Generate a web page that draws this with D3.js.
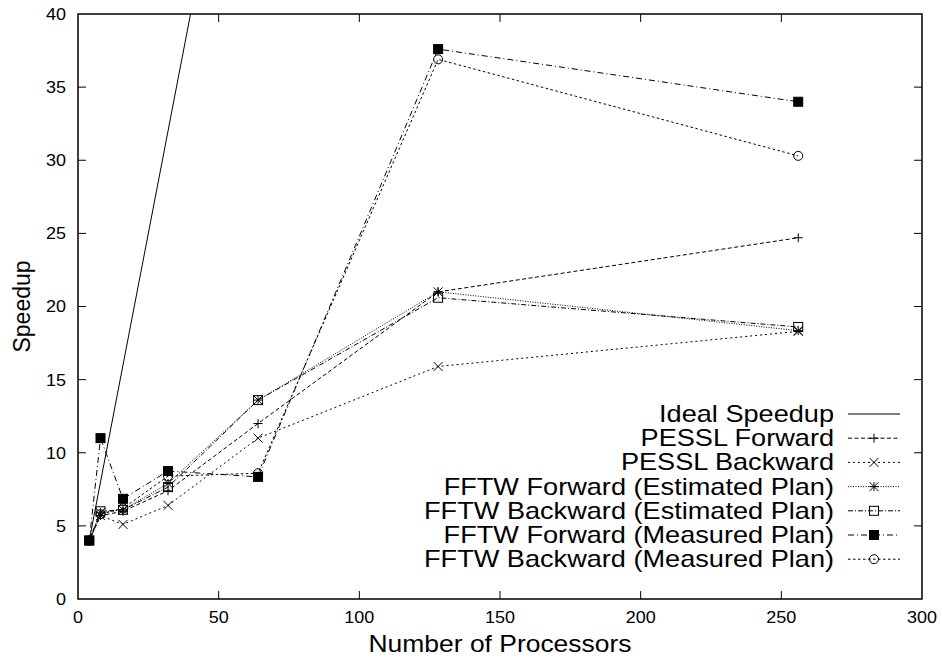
<!DOCTYPE html>
<html>
<head>
<meta charset="utf-8">
<script src="https://cdn.jsdelivr.net/npm/d3@7"></script>
<style>
  body { margin: 0; background: #fff; }
  text { font-family: "Liberation Sans", Arial, Helvetica, sans-serif; fill: #000; }
</style>
</head>
<body>
<div id="viz"></div>
<script>
// processors used in each run
let procs = [4, 8, 16, 32, 64, 128, 256]

// speedup values
let idealSpeedup = [4, 8, 16, 32, 64, 128, 256]
let pesslForward = [4, 5.7, 6.0, 7.4, 12.0, 21.0, 24.7]
let pesslBackward = [4, 5.7, 5.1, 6.4, 11.0, 15.9, 18.3]
let fftwFwdEst = [4, 5.9, 6.1, 7.9, 13.6, 21.0, 18.35]
let fftwBwdEst = [4, 6.0, 6.1, 7.65, 13.6, 20.6, 18.6]
let fftwFwdMeas = [4, 11.0, 6.85, 8.75, 8.35, 37.6, 34.0]
let fftwBwdMeas = [4, 5.8, 6.2, 8.4, 8.6, 36.9, 30.3]

let seriesNames = [
  "Ideal Speedup",
  "PESSL Forward",
  "PESSL Backward",
  "FFTW Forward (Estimated Plan)",
  "FFTW Backward (Estimated Plan)",
  "FFTW Forward (Measured Plan)",
  "FFTW Backward (Measured Plan)"
]

let xTicks = [0, 50, 100, 150, 200, 250, 300]
let yTicks = [0, 5, 10, 15, 20, 25, 30, 35, 40]

let w = 942;
let h = 659;
let padL = 78, padR = 922, padT = 14, padB = 599;

const svg = d3.select("#viz")
  .append("svg")
  .attr("width", w)
  .attr("height", h);

const xScale = d3.scaleLinear()
  .domain([0, 300])
  .range([padL, padR]);

const yScale = d3.scaleLinear()
  .domain([0, 40])
  .range([padB, padT]);

// style per series: dash pattern + point type
let styles = [
  { dash: null, mark: "none" },
  { dash: "4,2.5", mark: "plus" },
  { dash: "2,3", mark: "cross" },
  { dash: "1,1.5", mark: "star" },
  { dash: "5,2,1,2", mark: "box" },
  { dash: "6,3,1,3", mark: "fbox" },
  { dash: "2.5,2.5", mark: "circle" }
]

let allSeries = [idealSpeedup, pesslForward, pesslBackward, fftwFwdEst, fftwBwdEst, fftwFwdMeas, fftwBwdMeas]

// text that is a bit wider than the font, like the postscript original
let stretchText = function (g, x, y, str, size, sx, anchor, rot) {
  return g.append("text")
    .attr("transform", "translate(" + x + "," + y + ")" + (rot ? " rotate(" + rot + ")" : "") + " scale(" + sx + ",1)")
    .attr("dy", "0.35em")
    .attr("text-anchor", anchor)
    .attr("font-size", size)
    .text(str)
}

svg.append("clipPath")
  .attr("id", "plotClip")
  .append("rect")
  .attr("x", padL)
  .attr("y", padT)
  .attr("width", padR - padL)
  .attr("height", padB - padT)

let axisGroup = svg.append("g")
let tickLen = 8

// ticks, mirrored like gnuplot
xTicks.forEach(t => {
  if (t > 0 && t < 300) {
    axisGroup.append("line")
      .attr("x1", xScale(t)).attr("x2", xScale(t))
      .attr("y1", padB).attr("y2", padB - tickLen)
      .attr("stroke", "black").attr("stroke-width", 1)
    axisGroup.append("line")
      .attr("x1", xScale(t)).attr("x2", xScale(t))
      .attr("y1", padT).attr("y2", padT + tickLen)
      .attr("stroke", "black").attr("stroke-width", 1)
  }
  stretchText(axisGroup, xScale(t), padB + 18, t, 17, 1.06, "middle")
})

yTicks.forEach(t => {
  if (t > 0 && t < 40) {
    axisGroup.append("line")
      .attr("x1", padL).attr("x2", padL + tickLen)
      .attr("y1", yScale(t)).attr("y2", yScale(t))
      .attr("stroke", "black").attr("stroke-width", 1)
    axisGroup.append("line")
      .attr("x1", padR).attr("x2", padR - tickLen)
      .attr("y1", yScale(t)).attr("y2", yScale(t))
      .attr("stroke", "black").attr("stroke-width", 1)
  }
  stretchText(axisGroup, padL - 12, yScale(t), t, 17, 1.06, "end")
})

// border
axisGroup.append("rect")
  .attr("x", padL).attr("y", padT)
  .attr("width", padR - padL).attr("height", padB - padT)
  .attr("fill", "none")
  .attr("stroke", "black")
  .attr("stroke-width", 1.5)

// axis titles
stretchText(svg, xScale(150), 644, "Number of Processors", 23, 1.15, "middle")
stretchText(svg, 22, yScale(20), "Speedup", 23, 1.0, "middle", -90)

let markSize = 4.5

let drawMark = function (g, type, cx, cy) {
  let s = markSize
  if (type == "plus" || type == "star") {
    g.append("line").attr("x1", cx - s).attr("x2", cx + s).attr("y1", cy).attr("y2", cy)
      .attr("stroke", "black").attr("stroke-width", 1)
    g.append("line").attr("x1", cx).attr("x2", cx).attr("y1", cy - s).attr("y2", cy + s)
      .attr("stroke", "black").attr("stroke-width", 1)
  }
  if (type == "cross" || type == "star") {
    g.append("line").attr("x1", cx - s).attr("x2", cx + s).attr("y1", cy - s).attr("y2", cy + s)
      .attr("stroke", "black").attr("stroke-width", 1)
    g.append("line").attr("x1", cx - s).attr("x2", cx + s).attr("y1", cy + s).attr("y2", cy - s)
      .attr("stroke", "black").attr("stroke-width", 1)
  }
  if (type == "box" || type == "fbox") {
    g.append("rect").attr("x", cx - s).attr("y", cy - s).attr("width", 2 * s).attr("height", 2 * s)
      .attr("fill", type == "fbox" ? "black" : "none")
      .attr("stroke", "black").attr("stroke-width", 1)
  }
  if (type == "circle") {
    g.append("circle").attr("cx", cx).attr("cy", cy).attr("r", s)
      .attr("fill", "none").attr("stroke", "black").attr("stroke-width", 1)
  }
}

let line = d3.line()
  .x((d, i) => xScale(procs[i]))
  .y(d => yScale(d))

let plotGroup = svg.append("g").attr("clip-path", "url(#plotClip)")

allSeries.forEach((vals, k) => {
  plotGroup.append("path")
    .datum(vals)
    .attr("d", line)
    .attr("fill", "none")
    .attr("stroke", "black")
    .attr("stroke-width", 1)
    .attr("stroke-dasharray", styles[k].dash)
  if (styles[k].mark != "none") {
    vals.forEach((v, i) => drawMark(plotGroup, styles[k].mark, xScale(procs[i]), yScale(v)))
  }
})

// key, bottom right
let keyGroup = svg.append("g")
let keyTop = 414
let keyStep = 24.2
seriesNames.forEach((name, k) => {
  let y = keyTop + k * keyStep
  stretchText(keyGroup, 834, y, name, 23, 1.18, "end")
  keyGroup.append("line")
    .attr("x1", 848).attr("x2", 900)
    .attr("y1", y).attr("y2", y)
    .attr("stroke", "black")
    .attr("stroke-width", 1)
    .attr("stroke-dasharray", styles[k].dash)
  if (styles[k].mark != "none") drawMark(keyGroup, styles[k].mark, 874, y)
})
</script>
</body>
</html>
